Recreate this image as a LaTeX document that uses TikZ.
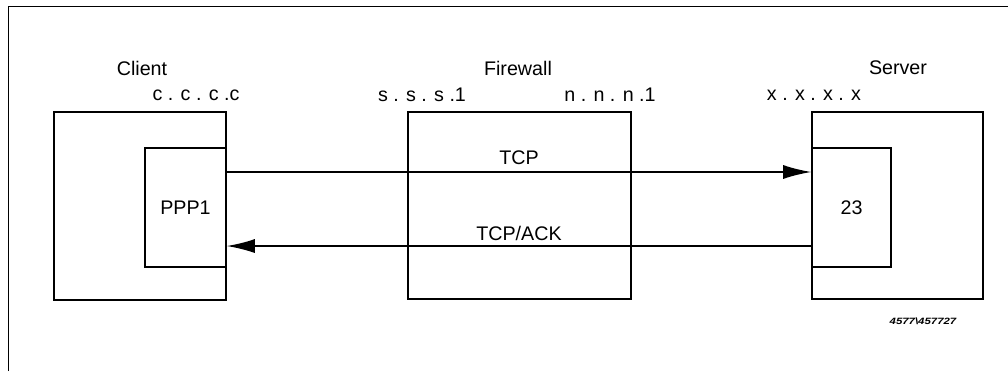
\documentclass[tikz,border=0pt]{standalone}
\usepackage{fontspec}
\setmainfont{Liberation Sans}
\usetikzlibrary{arrows.meta}

\begin{document}
\begin{tikzpicture}[x=0.025cm, y=-0.025cm,
    box/.style={draw, line width=1pt, inner sep=0pt},
    lbl/.style={font=\fontsize{14}{16}\selectfont},
    flow/.style={line width=1.2pt, -{Latex[length=20pt, width=10pt]}}]
    \useasboundingbox (0,0) rectangle (1008,371);

    % Frame
    \draw[line width=0.7pt] (8,371) -- (8,6) -- (1008,6);

    % Client side
    \node[box, minimum width=4.3cm, minimum height=4.7cm] (client) at (140,206) {};
    \node[box, lbl, minimum width=2.025cm, minimum height=2.975cm] (ppp) at (185.5,207.5) {PPP1};
    \node[lbl] (clientlbl) at (142,68) {Client};
    \node[lbl] (clientip) at (196,95) {c . c . c .c};

    % Firewall
    \node[box, minimum width=5.575cm, minimum height=4.675cm] (fw) at (519.5,205.5) {};
    \node[lbl] (fwlbl) at (518,68) {Firewall};
    \node[lbl] (fwin) at (422,95) {s . s . s .1};
    \node[lbl] (fwout) at (610,95) {n . n . n .1};

    % Server side
    \node[box, minimum width=4.275cm, minimum height=4.675cm] (server) at (897.5,205.5) {};
    \node[box, lbl, minimum width=1.975cm, minimum height=2.975cm] (port) at (851.5,207.5) {23};
    \node[lbl] (serverlbl) at (898,68) {Server};
    \node[lbl] (serverip) at (814,95) {x . x . x . x};

    % Flows
    \draw[flow] ([yshift=0.8875cm]ppp.east) -- node[lbl, above=1.5pt] {TCP} ([yshift=0.8875cm]port.west);
    \draw[flow] ([yshift=-0.9625cm]port.west) -- node[lbl, above] {TCP/ACK} ([yshift=-0.9625cm]ppp.east);

    % Figure number
    \node[font=\fontsize{6.5}{7}\selectfont\bfseries\itshape, xscale=1.25] (fignum) at (923,321) {4577\textbackslash457727};
\end{tikzpicture}
\end{document}
